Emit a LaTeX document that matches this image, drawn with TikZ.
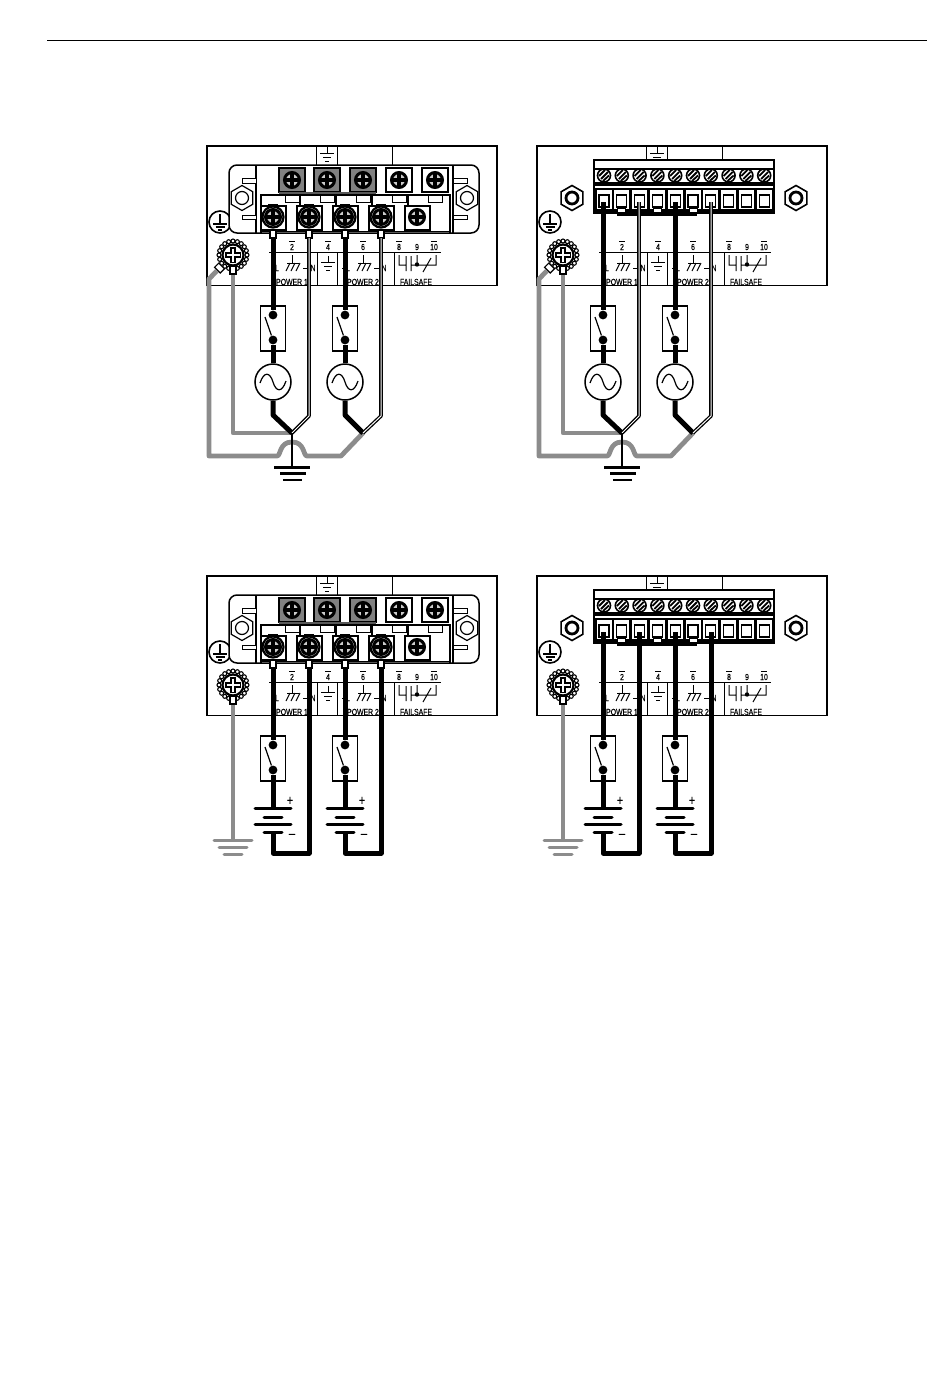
\documentclass[tikz,border=0pt]{standalone}
\usepackage{fontspec}
\usetikzlibrary{shapes.geometric}
\newfontfamily\labelfont[FakeStretch=0.78,FakeBold=0.25]{Liberation Sans}
\definecolor{earthgray}{HTML}{8C8C8C}
\tikzstyle{frame} = [draw=black, line width=0.75pt]
\tikzstyle{hair} = [draw=black, line width=0.5pt]
\tikzstyle{wire} = [draw=black, line width=2.5pt, line join=round]
\tikzstyle{dwire} = [draw=black, line width=0.65pt, double=white, double distance=0.5pt, line join=round]
\tikzstyle{gwire} = [draw=earthgray, line width=2.4pt, line join=round]
\tikzstyle{plate} = [line width=1.5pt, line cap=round]
\tikzstyle{tiny} = [font={\labelfont\fontsize{4.4}{5}\selectfont}, inner sep=0pt]
\tikzstyle{sign} = [font={\labelfont\fontsize{7}{7}\selectfont}, inner sep=0pt]
\tikzstyle{swbox} = [draw=black, line width=0.75pt, minimum width=12.5pt, minimum height=22.5pt, inner sep=0pt]
\tikzstyle{swdot} = [circle, fill=black, minimum size=4.4pt, inner sep=0pt]
\tikzstyle{acsrc} = [circle, draw=black, fill=white, line width=0.75pt, minimum size=18pt, inner sep=0pt]
\tikzstyle{nut} = [regular polygon, regular polygon sides=6, shape border rotate=30, draw=black, fill=white, line width=0.6pt, minimum size=12.5pt, inner sep=0pt]
\tikzstyle{lug} = [draw=black, fill=white, line width=0.6pt, minimum width=3pt, minimum height=4pt, inner sep=0pt]
\tikzstyle{screwhd} = [circle, draw=black, line width=1.5pt, minimum size=7.5pt, inner sep=0pt]
\tikzstyle{washer} = [circle, draw=black, fill=white, line width=1.1pt, minimum size=10.5pt, inner sep=0pt]
\tikzstyle{tooth} = [circle, draw=black, fill=white, line width=0.55pt, minimum size=2pt, inner sep=0pt]

% x y fill
\newcommand{\crosshead}[3]{
  \node[screwhd,fill=#3] at (#1,#2) {};
  \draw[line width=1.7pt] (#1-6,#2) -- (#1+6,#2) (#1,#2-6) -- (#1,#2+6);
}
% x y of the top line
\newcommand{\gndmark}[2]{
  \draw[hair] (#1,#2-6) -- (#1,#2) (#1-7,#2) -- (#1+7,#2) (#1-4,#2+4) -- (#1+4,#2+4) (#1-2,#2+8) -- (#1+2,#2+8);
}
\newcommand{\sinewave}[1]{
  \draw[line width=0.6pt] (#1-13,383) .. controls (#1-9,371) and (#1-3,372) .. (#1,382) .. controls (#1+3,392) and (#1+9,393) .. (#1+13,381);
}
% everything common to the four panels
\newcommand{\panelbox}{
  \draw[frame] (207,146) rectangle (497,285.5);
  \draw[hair] (316,146) -- (316,165) (337,146) -- (337,165) (392,146) -- (392,165);
  \gndmark{327}{153}
  \draw[hair] (269,252) -- (441,252);
  \draw[hair] (317,252) -- (317,285) (337,252) -- (337,285) (394,252) -- (394,285);
  \foreach \x/\t in {292/2,328/4,363/6,399/8,434/10}{
    \node[tiny] (num\t) at (\x,247) {\t};
    \draw[hair] (\x-3,241.5) -- (\x+3,241.5);
  }
  \node[tiny] (num9) at (417,247) {9};
  \gndmark{328}{262}
  \foreach \x/\n in {292/a,363/b}{
    \draw[hair] (\x,255) -- (\x,263) (\x-5,263) -- (\x+7,263);
    \draw[hair] (\x-2,263) -- (\x-6,271) (\x+3,263) -- (\x-1,271) (\x+8,263) -- (\x+4,271);
    \draw[hair] (\x-21,268) -- (\x-17,268) (\x+11,268) -- (\x+17,268);
    \node[tiny] (ltr\n) at (\x-15,268) {L};
    \node[tiny] (ntr\n) at (\x+21,268) {N};
  }
  \node[tiny] (pw1) at (292,282) {POWER 1};
  \node[tiny] (pw2) at (363,282) {POWER 2};
  \node[tiny] (fs) at (416,282) {FAILSAFE};
  \draw[hair] (399,255) -- (399,265) -- (406,265) (406,256) -- (406,271) (411,256) -- (411,271) (411,265) -- (417,265) (417,255) -- (417,265) -- (427,265) (423,272) -- (431,258) (427,265) -- (436,265) -- (436,255);
  \fill (417,264.5) circle (2.2);
  % earth mark and earth screw
  \node[circle,draw=black,line width=0.8pt,minimum size=11pt,inner sep=0pt] (pemark) at (220,222) {};
  \draw[line width=0.8pt] (220,214) -- (220,224) (213,224) -- (227,224) (215.5,227) -- (224.5,227) (218,230) -- (222,230);
  \foreach \a in {0,18,...,342}{ \node[tooth] at ([shift={(\a:14)}]233,255) {}; }
  \node[washer] (pescrew) at (233,255) {};
  \draw[line width=3pt] (225,255) -- (241,255) (233,247) -- (233,263);
  \draw[white,line width=1.1pt] (226.5,255) -- (239.5,255) (233,248.5) -- (233,261.5);
}
% screw terminal block
\newcommand{\screwblock}{
  \draw[frame,rounded corners=4pt,fill=white] (229,165) rectangle (479,233);
  \draw[line width=0.7pt] (256,165) -- (256,233) (453,165) -- (453,233);
  \node[nut] (nutl) at (242,198) {};
  \node[circle,draw=black,line width=0.6pt,minimum size=6.5pt,inner sep=0pt] at (242,198) {};
  \node[nut] (nutr) at (467,198) {};
  \node[circle,draw=black,line width=0.6pt,minimum size=6.5pt,inner sep=0pt] at (467,198) {};
  \foreach \x in {242,453}{
    \draw[hair,fill=white] (\x,178) rectangle (\x+14,183);
    \draw[hair,fill=white] (\x,215) rectangle (\x+14,219);
  }
  \draw[line width=0.7pt] (261,233) -- (261,195) -- (450,195) -- (450,233);
  \draw[line width=0.7pt] (300,195) -- (300,206) (336,195) -- (336,206) (372,195) -- (372,206) (408,195) -- (408,206);
  \draw[line width=0.7pt] (261,231.5) -- (450,231.5);
  \foreach \x/\c in {292/gray,327/gray,363/gray,399/white,435/white}{
    \draw[line width=0.8pt,fill=\c] (\x-13,168) rectangle (\x+13,192);
    \draw[hair,fill=white] (\x-7,195.5) rectangle (\x+7,202);
    \crosshead{\x}{180}{gray!40}
  }
  \fill[gray!70!black] (279,191.5) rectangle (376,194);
  \foreach \x in {273,309,345,381}{
    \draw[line width=0.8pt,fill=white] (\x-12,206) rectangle (\x+13,230);
    \fill (\x-5,204) rectangle (\x+5,207);
    \node[washer] at (\x,217) {};
    \crosshead{\x}{217}{gray!40}
    \node[lug] at (\x,234) {};
  }
  \draw[line width=0.8pt,fill=white] (405,206) rectangle (430,230);
  \crosshead{417}{217}{gray!40}
}
% pluggable terminal block
\newcommand{\plugblock}{
  \node[nut,line width=0.8pt] (nutl) at (242,198) {};
  \node[circle,draw=black,line width=1.4pt,minimum size=6pt,inner sep=0pt] at (242,198) {};
  \node[nut,line width=0.8pt] (nutr) at (466,198) {};
  \node[circle,draw=black,line width=1.4pt,minimum size=6pt,inner sep=0pt] at (466,198) {};
  \draw[line width=0.7pt,fill=white] (264,160) rectangle (444,213);
  \fill (264,167.5) rectangle (444,169.5);
  \fill (264,182) rectangle (444,186);
  \fill (264,188) rectangle (444,213);
  \fill (287,212) rectangle (367,216);
  \foreach \i in {0,...,9}{
    \pgfmathsetmacro{\x}{274+17.8*\i}
    \draw[line width=0.8pt,fill=white] (\x,175.5) circle (6.5);
    \draw[line width=0.9pt] (\x+4,172) -- (\x-3,179) (\x+5,175.5) -- (\x-1,181) (\x+1,170) -- (\x-5,176);
    \fill[white] (\x-7.5,190) rectangle (\x+7.5,209);
    \draw[line width=0.6pt] (\x-5,195) rectangle (\x+5,207);
  }
  \foreach \x in {287,323,359}{
    \draw[hair,fill=white] (\x,208) rectangle (\x+8,212);
  }
}
% switch in line, name and x
\newcommand{\switchbox}[2]{
  \node[swbox] (#1box) at (#2,328.5) {};
  \node[swdot] (#1t) at (#2,315) {};
  \node[swdot] (#1b) at (#2,340) {};
  \draw[line width=0.6pt] (#2-8,317) -- (#1b);
}
% wiring to a mains supply, y of the wire ends
\newcommand{\acwiring}[1]{
  \coordinate (hot1) at (273,#1);
  \coordinate (ret1) at (309,#1);
  \coordinate (hot2) at (345,#1);
  \coordinate (ret2) at (381,#1);
  \coordinate (jn1) at (292,433);
  \coordinate (jn2) at (363,433);
  \node[lug,rotate=45] (pelug) at (219.5,268) {};
  \node[lug] (pelug2) at (233,270) {};
  \draw[gwire] (pelug) -- (209,279) -- (209,456) -- (277,456) .. controls (281,456) and (279,442) .. (292,442) .. controls (305,442) and (303,456) .. (307,456) -- (341,456) -- (jn2);
  \draw[gwire] (pelug2) -- (233,433) -- (jn1);
  \switchbox{swa}{273}
  \switchbox{swb}{345}
  \node[acsrc] (srca) at (273,382) {};
  \node[acsrc] (srcb) at (345,382) {};
  \sinewave{273}
  \sinewave{345}
  \draw[wire] (hot1) -- (swat);
  \draw[wire] (swab) -- (srca);
  \draw[wire] (srca) -- (273,415) -- (jn1);
  \draw[wire] (hot2) -- (swbt);
  \draw[wire] (swbb) -- (srcb);
  \draw[wire] (srcb) -- (345,415) -- (jn2);
  \draw[dwire] (ret1) -- (309,416) -- (jn1);
  \draw[dwire] (ret2) -- (381,416) -- (jn2);
  \coordinate (gndtop) at (292,467.5);
  \draw[line width=1.1pt] (jn1) -- (gndtop);
  \draw[line width=1.1pt] (274,467.5) -- (310,467.5) (280,473.5) -- (306,473.5) (283,480) -- (302,480);
}
% one battery, name and x
\newcommand{\batterypack}[2]{
  \draw[plate] (#2-18,378) -- (#2+18,378) (#2-18,394) -- (#2+18,394) (#2-9,387) -- (#2+9,387) (#2-9,402) -- (#2+9,402);
  \coordinate (#1top) at (#2,378);
  \coordinate (#1bot) at (#2,402);
  \node[sign] (#1plus) at (#2+17,371) {+};
  \node[sign] (#1minus) at (#2+19,406) {–};
}
% wiring to batteries, y of the wire ends
\newcommand{\dcwiring}[1]{
  \coordinate (hot1) at (273,#1);
  \coordinate (ret1) at (309,#1);
  \coordinate (hot2) at (345,#1);
  \coordinate (ret2) at (381,#1);
  \node[lug] (pelug2) at (233,270) {};
  \coordinate (gndtop) at (233,410);
  \draw[gwire] (pelug2) -- (gndtop);
  \draw[earthgray,plate] (214,410) -- (252,410) (219,417) -- (247,417) (224,424) -- (242,424);
  \switchbox{swa}{273}
  \switchbox{swb}{345}
  \batterypack{bata}{273}
  \batterypack{batb}{345}
  \draw[wire] (hot1) -- (swat);
  \draw[wire] (hot2) -- (swbt);
  \draw[wire] (swab) -- (batatop);
  \draw[wire] (swbb) -- (batbtop);
  \draw[wire] (batabot) -- (273,423) -- (309,423) -- (ret1);
  \draw[wire] (batbbot) -- (345,423) -- (381,423) -- (ret2);
}

\begin{document}
\begin{tikzpicture}[x=0.5pt,y=-0.5pt]
  \useasboundingbox (0,0) rectangle (950,1387);
  \coordinate (rulel) at (47,40);
  \coordinate (ruler) at (927,40);
  \draw[line width=0.4pt] (rulel) -- (ruler);

  \begin{scope}[name prefix=acs-]
    \panelbox
    \screwblock
    \acwiring{238}
  \end{scope}

  \begin{scope}[shift={(330,0)},name prefix=acp-]
    \panelbox
    \plugblock
    \acwiring{202}
  \end{scope}

  \begin{scope}[shift={(0,430)},name prefix=dcs-]
    \panelbox
    \screwblock
    \dcwiring{238}
  \end{scope}

  \begin{scope}[shift={(330,430)},name prefix=dcp-]
    \panelbox
    \plugblock
    \dcwiring{202}
  \end{scope}
\end{tikzpicture}
\end{document}
